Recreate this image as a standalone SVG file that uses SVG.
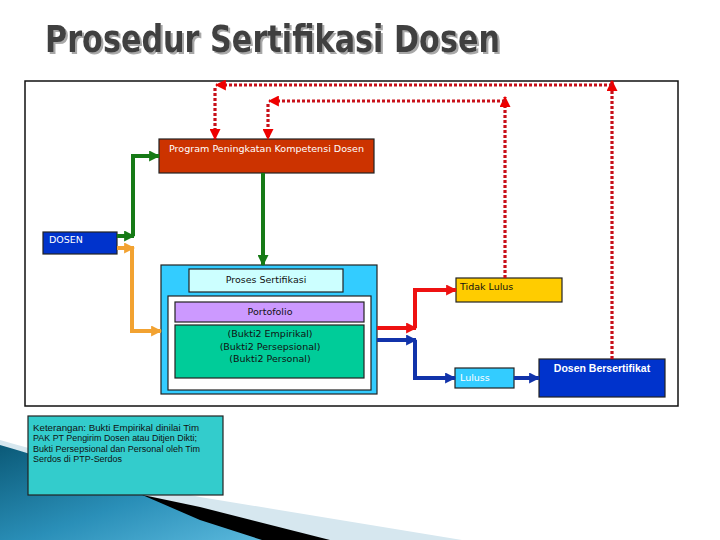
<svg xmlns="http://www.w3.org/2000/svg" width="720" height="540" viewBox="0 0 720 540">
<defs>
<style>
.box{stroke:#222;stroke-width:1.2}
.t{font-family:"DejaVu Sans",Verdana,sans-serif;font-size:9.5px}
.lg{font-family:"Liberation Sans",Arial,sans-serif;font-size:8.5px;fill:#111}
.thick{fill:none;stroke-width:4}
.dot{fill:none;stroke:#c8101a;stroke-width:3.2;stroke-dasharray:3 2}
</style>
<filter id="sh" x="-5%" y="-20%" width="110%" height="150%">
<feDropShadow dx="2" dy="2" stdDeviation="0.7" flood-color="#a8a8a8" flood-opacity="1"/>
</filter>
<marker id="mg" viewBox="0 0 10 10" refX="9" refY="5" markerWidth="11" markerHeight="11" markerUnits="userSpaceOnUse" orient="auto"><path d="M0,0 L10,5 L0,10 z" fill="#167a16"/></marker>
<marker id="mo" viewBox="0 0 10 10" refX="9" refY="5" markerWidth="11" markerHeight="11" markerUnits="userSpaceOnUse" orient="auto"><path d="M0,0 L10,5 L0,10 z" fill="#f2a231"/></marker>
<marker id="mr" viewBox="0 0 10 10" refX="9" refY="5" markerWidth="11" markerHeight="11" markerUnits="userSpaceOnUse" orient="auto"><path d="M0,0 L10,5 L0,10 z" fill="#ee1111"/></marker>
<marker id="mb" viewBox="0 0 10 10" refX="9" refY="5" markerWidth="11" markerHeight="11" markerUnits="userSpaceOnUse" orient="auto"><path d="M0,0 L10,5 L0,10 z" fill="#1133aa"/></marker>
<marker id="md" viewBox="0 0 10 10" refX="9" refY="5" markerWidth="11" markerHeight="11" markerUnits="userSpaceOnUse" orient="auto"><path d="M0,0 L10,5 L0,10 z" fill="#ee0000"/></marker>
<linearGradient id="sw" x1="0" y1="0" x2="1" y2="1">
<stop offset="0" stop-color="#0b5a78"/>
<stop offset="0.55" stop-color="#2a8fb8"/>
<stop offset="1" stop-color="#5ab8dc"/>
</linearGradient>
</defs>

<g id="background">
<rect width="720" height="540" fill="#ffffff"/>
<path d="M0,440 C80,462 150,487 200,497 L462,540 L0,540 Z" fill="#d6e7ef"/>
<path d="M100,486 L200,507 L330,540 L100,540 Z" fill="#000000"/>
<path d="M0,445 C60,462 110,482 140,494 L200,520 L262,540 L0,540 Z" fill="url(#sw)"/>
</g>

<g id="title">
<text x="45" y="52" font-family="'DejaVu Sans Condensed','DejaVu Sans',sans-serif" font-weight="bold" font-size="37" fill="#404040" textLength="455" lengthAdjust="spacingAndGlyphs" filter="url(#sh)">Prosedur Sertifikasi Dosen</text>
</g>

<rect id="frame" x="25" y="81" width="653" height="325" fill="#ffffff" stroke="#111" stroke-width="1.5"/>

<g id="node-program">
<rect class="box" x="159" y="139" width="215" height="34" fill="#cc3300"/>
<text class="t" x="169" y="152" fill="#ffffff" textLength="195" lengthAdjust="spacingAndGlyphs">Program Peningkatan Kompetensi Dosen</text>
</g>

<g id="node-dosen">
<rect class="box" x="43" y="232" width="74" height="22" fill="#0033cc"/>
<text class="t" x="49" y="243" fill="#ffffff">DOSEN</text>
</g>

<g id="node-proses">
<rect class="box" x="161" y="265" width="216" height="129" fill="#33ccff"/>
<rect class="box" x="189" y="269" width="154" height="23" fill="#ccffff"/>
<text class="t" x="266" y="283" text-anchor="middle" fill="#111">Proses Sertifikasi</text>
<rect class="box" x="168" y="296" width="203" height="94" fill="#ffffff"/>
</g>

<g id="node-portofolio">
<rect class="box" x="175" y="302" width="189" height="20" fill="#cc99ff"/>
<text class="t" x="270" y="315" text-anchor="middle" font-size="8.5" fill="#111">Portofolio</text>
</g>

<g id="node-bukti">
<rect class="box" x="175" y="325" width="189" height="53" fill="#00cc99"/>
<text class="t" x="270" y="337" text-anchor="middle" fill="#111">(Bukti2 Empirikal)</text>
<text class="t" x="270" y="350" text-anchor="middle" fill="#111">(Bukti2 Persepsional)</text>
<text class="t" x="270" y="362" text-anchor="middle" fill="#111">(Bukti2 Personal)</text>
</g>

<g id="node-tidak-lulus">
<rect class="box" x="456" y="278" width="106" height="24" fill="#ffcc00"/>
<text class="t" x="460" y="290" fill="#111">Tidak Lulus</text>
</g>

<g id="node-lulus">
<rect class="box" x="455" y="368" width="59" height="20" fill="#33ccff"/>
<text class="t" x="460" y="381" fill="#ffffff">Luluss</text>
</g>

<g id="node-bersertifikat">
<rect class="box" x="539" y="359" width="126" height="38" fill="#0033cc"/>
<text x="602" y="372" text-anchor="middle" font-family="'Liberation Sans',Arial,sans-serif" font-weight="bold" font-size="10.5" fill="#ffffff">Dosen Bersertifikat</text>
</g>

<g id="node-keterangan">
<rect class="box" x="28" y="416" width="195" height="79" fill="#33cccc"/>
<text class="lg" x="33" y="431" textLength="166" lengthAdjust="spacingAndGlyphs">Keterangan:  Bukti Empirikal dinilai   Tim</text>
<text class="lg" x="33" y="441" textLength="164" lengthAdjust="spacingAndGlyphs">PAK PT Pengirim Dosen atau Ditjen Dikti;</text>
<text class="lg" x="33" y="452" textLength="167" lengthAdjust="spacingAndGlyphs">Bukti Persepsional dan Personal oleh Tim</text>
<text class="lg" x="33" y="462" textLength="89" lengthAdjust="spacingAndGlyphs">Serdos di PTP-Serdos</text>
</g>

<g id="connectors">
<path class="thick" stroke="#167a16" d="M117,236 H134" marker-end="url(#mg)"/>
<path class="thick" stroke="#167a16" d="M133,236 V156 H159" marker-end="url(#mg)"/>
<path class="thick" stroke="#167a16" d="M263,173 V265" marker-end="url(#mg)"/>
<path class="thick" stroke="#f2a231" d="M117,248 H134" marker-end="url(#mo)"/>
<path class="thick" stroke="#f2a231" d="M132,248 V331 H161" marker-end="url(#mo)"/>
<path class="thick" stroke="#ee1111" d="M377,328 H416" marker-end="url(#mr)"/>
<path class="thick" stroke="#ee1111" d="M415,328 V290 H456" marker-end="url(#mr)"/>
<path class="thick" stroke="#1133aa" d="M377,340 H416" marker-end="url(#mb)"/>
<path class="thick" stroke="#1133aa" d="M415,340 V378 H455" marker-end="url(#mb)"/>
<path class="thick" stroke="#1133aa" d="M514,378 H539" marker-end="url(#mb)"/>
<path class="dot" d="M505,278 V97" marker-end="url(#md)"/>
<path class="dot" d="M505,101 H269" marker-end="url(#md)"/>
<path class="dot" d="M268,104 V139" marker-end="url(#md)"/>
<path class="dot" d="M612,359 V81" marker-end="url(#md)"/>
<path class="dot" d="M612,85 H216" marker-end="url(#md)"/>
<path class="dot" d="M215,88 V139" marker-end="url(#md)"/>
</g>
</svg>
